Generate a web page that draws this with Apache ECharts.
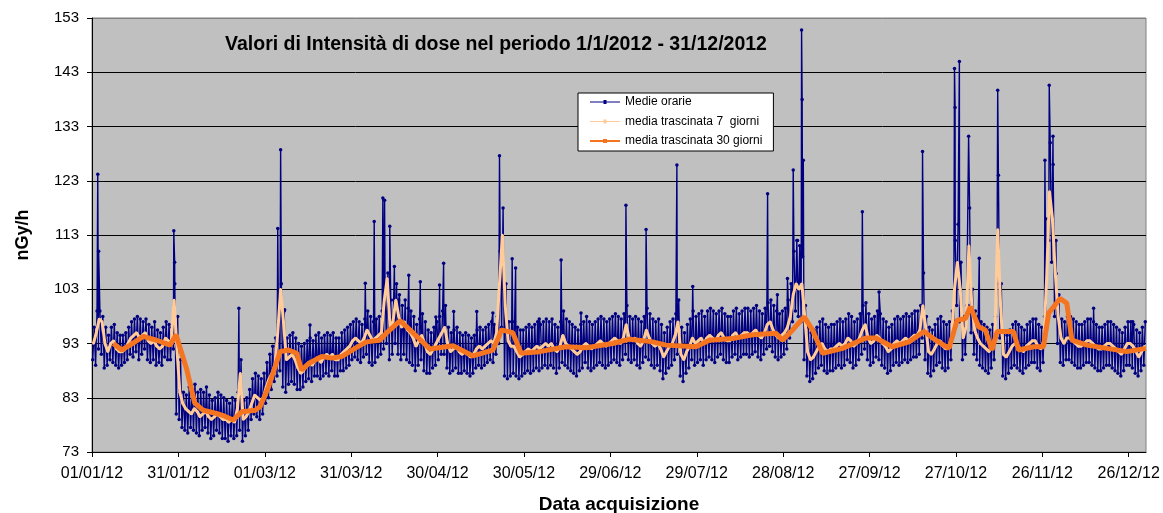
<!DOCTYPE html>
<html>
<head>
<meta charset="utf-8">
<script src="https://cdn.jsdelivr.net/npm/echarts@6/dist/echarts.min.js"></script>
<style>
html,body{margin:0;padding:0;background:#fff;}
#chart{width:1163px;height:513px;}
</style>
</head>
<body>
<div id="chart"></div>
<script>
// Tick labels of the x axis (one every 30 days, day 0 = 01/01/12)
const tickLabels = ['01/01/12','31/01/12','01/03/12','31/03/12','30/04/12','30/05/12','29/06/12','29/07/12','28/08/12','27/09/12','27/10/12','26/11/12','26/12/12'];
const yTicks = [73, 83, 93, 103, 113, 123, 133, 143, 153];

// Medie orarie: daily minimum of the hourly means (day 0..365)
const orarieMin = [
 90,89,92,91,88.5,89,90,89.5,89,88.5,
 89,89.5,90,91,90.5,91.5,90,91,92,90,
 89.5,90,89,89.5,89,90.5,90,90,92,80,
 79,77.5,77,76.5,77.5,77,76.5,76,77,77.5,
 76.5,75.5,76,77,76.5,75.5,75.5,75,76,75.5,
 76,77,75,76,77,79,80,79.5,79,80,
 82,83,84.5,86,87,88,85,84,85.5,86,
 85.5,84.5,84.5,85,86,86.5,86,87,87,86.5,
 87,87.5,87,88,87,87,88,88,88.5,89,
 90,90.5,90,89.5,90.5,91,89.5,89,89.5,90.5,
 91,92,93,90,91,93,91,90,91,90,
 89.5,89,88,89,90,88,87.5,87.5,88.5,89,
 90,91,91,88.5,87.5,88,88.5,87.5,87.5,88,
 87.5,87,87.5,88.5,89,88.5,89,89.5,90,89.5,
 91,93,96,87,86.5,87,87.5,87,86.5,87,
 87.5,88,87.5,88,88.5,88,88.5,89,88.5,89,
 88.5,87.5,88.5,89.5,89,88.5,88,87.5,87,88,
 88.5,89.5,88.5,88,88.5,89,89.5,89,88.5,89,
 89.5,90,89.5,89,90,91,90,89.5,90,89,
 88.5,89.5,90.5,90,89,88.5,89,88,86.5,87.5,
 88.5,89,90,91,87,86,87.5,88.5,90,89,
 89.5,90,89,90,90.5,90,89.5,90.5,91,90,
 89.5,89.5,90.5,91,90,90.5,91,91,90.5,91,
 91.5,90.5,90,91,92,92.5,91.5,90.5,90,90.5,
 91,92,94,97,99,98,97,90,87,86,
 86.5,87.5,88.5,89,88,87.5,88,88,88.5,89,
 88.5,89,90,89.5,88.5,89,90,91,92,90,
 89,89.5,90.5,90,89,88.5,87.5,88,89,89.5,
 89,89.5,90,89.5,90,90.5,90.5,91,94,90,
 87.5,87,88,89,89.5,88.5,88,88.5,90,97,
 100,97,90,91,100,95,91,90,89,88.5,
 88,87.5,88.5,90,104,94,87,86.5,87.5,88.5,
 89,88.5,88,87.5,88.5,89,89.5,89.5,88.5,88,
 89.5,98,112,108,98,93,89.5,89,90,90,
 89.5,89,88.5,88.5,89,89.5,89.5,89,88.5,88,
 88,88.5,89,89,88.5,88,87.5,87,88,89,
 89,88.5,87.5,87,88,89
];
// Medie orarie: daily maximum of the hourly means (day 0..365)
const orarieMax = [
 96,99,99,98,96,94.5,96,96.5,95,94.5,
 94.5,95,96,97,97.5,98,97.5,97,97.5,96.5,
 96,97,95.5,95,96,97,96.5,96,104,98,
 90,84,83.5,85,84,85.5,84,84.5,84,85,
 83.5,82.5,83,84,83.5,83,82.5,82,83,82.5,
 84,90,82.5,83,84.5,86.5,87.5,87,86.5,87.5,
 89.5,91,92.5,94,97,104,99,94,94.5,95,
 94,93,92.5,93,93.5,94,93.5,94.5,95,94,
 94.5,95,94.5,95,94,94,95,95.5,96,96.5,
 97,97.5,97,96.5,97.5,99,98,97,97.5,98,
 99,104,106,101,101,104,102,100,101,99.5,
 99,98,96.5,97.5,98.5,97,95.5,95,96,97,
 98,99,100,96,95,95.5,96,95,94.5,95,
 94.5,94,94.5,95.5,96,95.5,96,96.5,97,96.5,
 98,110,118,104,97,97,97,96,95.5,95.5,
 96,96.5,96,96.5,97,96.5,97,97.5,97,97.5,
 96.5,96,97,99,97.5,97,96.5,96,95.5,96.5,
 97,98,97,96.5,97,97.5,98,97.5,97,97.5,
 98,98.5,98,97.5,98.5,100,98,97.5,98,97.5,
 97,98,99.5,98.5,97.5,97,97.5,96.5,95,96,
 97,97.5,98.5,101,96,95,96.5,97.5,99,98,
 98.5,99,98,99,99.5,99,98.5,99,99.5,98.5,
 98,98,99,99.5,98.5,99,99.5,99.5,99,99.5,
 100,99,98.5,99.5,100.5,101,100,99,98.5,99,
 99.5,101,104,110,112,111,109,100,96,95,
 95.5,96,97,97.5,96.5,96,96.5,96.5,97,97.5,
 97,97.5,98.5,98,97,97.5,98.5,100,100.5,98.5,
 97.5,98,99,98.5,97.5,97,96,96.5,97.5,98,
 97.5,98,98.5,98,98.5,99,99,100,106,98,
 96,95.5,96.5,97.5,98,97,96.5,97,99,112,
 115,108,98,100,118,103,99,98,97,96.5,
 96,95.5,96.5,98,124,104,95,94.5,95.5,96.5,
 97,96.5,96,95.5,96.5,97,97.5,97.5,96.5,96,
 98,116,130,126,112,102,97.5,97,98,98,
 97.5,97,96.5,96.5,97,97.5,97.5,97,96.5,96,
 96,96.5,97,97,96.5,96,95.5,95,96,97,
 97,96.5,95.5,95,96,97
];
// Medie orarie: isolated peaks [day, nGy/h]
const picchi = [
 [2.0,124.2],[2.3,110],[28.4,113.8],[28.7,108],[51.0,99.5],[64.5,114.2],[65.5,128.7],[66.9,99.2],[75.7,96.4],
 [94.9,104.1],[98.0,115.5],[101.0,119.8],[101.6,119.4],[103.4,114.6],[105.0,107.2],[106.5,101],[110.0,105.6],
 [114.0,104.4],[119.4,97.9],[120.7,103.8],[122.1,107.8],[125.6,98.9],[133.6,98.9],[139.2,98.6],
 [141.5,127.6],[145.9,108.6],[147.1,106.9],[155.3,97.5],[162.9,108.4],[169.8,98.6],
 [185.4,118.5],[192.4,114.0],[203.1,125.9],[208.6,103.5],[234.6,120.6],[238.0,102],[241.5,105],
 [243.5,125],[245.0,112],[246.4,150.8],[246.6,138],[247.0,126.8],[267.5,117.3],[273.3,102.5],
 [288.4,128.4],[299.5,143.7],[299.7,136.5],[301.2,145],[304.4,131.2],[308.1,108.7],[314.5,139.7],
 [330.9,126.8],[332.4,140.6],[333.7,131.2],[334.8,105.9],[347.8,99.5],[361.4,97]
];
// media trascinata 7 giorni (day 0..365)
const media7 = [
 93,95,97.5,97,93,91.5,93,93.5,92,91.5,
 91.5,92,93,94,94.5,95,94,94.5,95,93.5,
 93,93.5,92.5,92,92.5,94,93.5,93,101,92,
 84,82,81,80.5,80,81,80.5,79.5,80,80.5,
 79.5,79,79.5,80,79.5,79,79,78.5,79,78.5,
 81,87.5,79,79.5,80.5,82,83.5,83,82.5,83,
 85,86.5,87.5,89,95,103,97,90,90.5,91,
 90,88.5,87.5,88,89,89.5,89,90,90.5,89.5,
 90.5,91,90.5,91,90,90,91,91.5,92,92.5,
 93.5,94,93.5,93,94,95.5,94.5,93.5,94,94.5,
 95,101,105,96,97,101,98,96,97,95.5,
 95,94,92.5,93.5,94.5,93,91.5,91,92,93,
 94,95,96,93,91.5,92,92.5,91.5,91,91.5,
 91,90.5,91,92,92.5,92,92.5,93,93.5,93,
 95,104,113,100,93.5,92.5,92.5,91.5,90.5,91,
 91.5,92,91.5,92,92.5,92,92.5,93,92.5,93,
 92,91.5,92.5,94.5,93,92.5,92,91.5,91,91.5,
 92.5,93,92.5,92,92.5,93,93.5,93,92.5,93,
 93.5,94,93.5,93,94,96.5,94,93.5,94,93,
 92.5,93.5,95.5,94,93,92.5,93,92,90.5,91.5,
 92.5,93,94.5,97,91,90,91.5,92.5,94,93,
 93.5,94,93,94,94.5,94,93.5,94.5,95,94,
 93.5,93.5,94.5,95,94,94.5,95,95,94.5,95,
 95.5,94.5,94,95,96.5,97,95.5,94.5,94,94.5,
 95,96,98,102,104,103,104,98,91.5,90,
 90.5,91.5,92.5,93,92,91.5,92,92,92.5,93,
 92.5,93,94,93.5,92.5,93,94,95.5,96.5,94,
 93,93.5,94.5,94,93,92.5,91.5,92,93,93.5,
 93,93.5,94,93.5,94,94.5,94.5,95.5,100,96,
 91.5,91,92,93,93.5,92.5,92,92.5,94,103,
 108,103,94,96,111,100,95.5,94,93,92.5,
 92,91.5,92.5,94,114,100,91,90.5,91.5,92.5,
 93,92.5,92,91.5,92.5,93,93.5,93.5,92.5,92,
 93.5,105,121,116,106,98,94,93,94,94,
 93.5,93,92.5,92.5,93,93.5,93.5,93,92.5,92,
 92,92.5,93,93,92.5,92,91.5,91,92,93,
 93,92.5,91.5,90.5,91.5,92.5
];
// media trascinata 30 giorni: days and values
const giorni30 = [7.4,10.3,13.2,17.8,22.4,27.1,29.2,32.8,35.7,38.6,43.2,46.1,49.0,52.0,56.7,58.4,61.3,63.6,65.3,68.2,71.1,72.8,75.2,79.8,83.2,86.7,91.3,95.3,99.9,102.2,107.0,111.6,117.3,125.4,132.3,139.2,141.5,142.1,146.1,149.0,155.4,164.6,171.6,180.8,186.6,194.7,199.3,209.7,214.4,222.4,229.4,237.5,239.8,243.3,247.3,250.2,253.7,260.6,268.7,272.2,277.9,283.7,288.9,293.0,297.6,300.4,303.3,305.0,307.9,310.2,312.5,314.3,320.0,321.8,327.0,330.4,332.2,336.2,338.5,340.3,345.5,352.4,359.3,366.0];
const valori30 = [93.0,91.8,92.7,94.3,93.6,92.7,94.6,88.4,82.0,80.7,80.1,79.6,78.9,80.4,80.7,81.4,85.0,88.7,91.5,91.8,91.2,88.1,89.3,90.6,90.3,90.6,92.1,93.3,93.6,94.9,97.2,94.9,92.0,92.6,90.7,91.8,94.5,95.5,95.0,91.2,91.5,92.4,92.2,93.0,93.8,93.3,92.7,92.4,93.6,93.9,94.6,94.9,93.6,95.5,97.9,95.5,91.2,92.1,94.0,94.0,92.4,93.3,95.2,93.6,92.1,97.3,97.6,99.8,96.1,95.5,91.8,95.2,95.2,91.8,92.4,92.4,98.6,101.3,100.4,93.6,92.7,92.1,91.5,92.1];

// ---- build series tables ----
const datiOrari = [];
orarieMin.forEach((v, d) => { datiOrari.push([d + 0.25, v]); datiOrari.push([d + 0.75, orarieMax[d]]); });
picchi.forEach(p => datiOrari.push(p));
datiOrari.sort((a, b) => a[0] - b[0]);
const dati7 = media7.map((v, d) => [d + 0.5, v]);
const dati30 = giorni30.map((d, i) => [d, valori30[i]]);

const FONT = '"Liberation Sans", Arial, sans-serif';
// legend icons: a line with a small marker in the middle
const iconThin = 'path://M0,1.6L30,1.6L30,2.4L0,2.4Z M13.5,0L16.5,0L16.5,4L13.5,4Z';
const iconThick = 'path://M0,1L30,1L30,3L0,3Z M13,0L17,0L17,4L13,4Z';
const chart = echarts.init(document.getElementById('chart'));
chart.setOption({
  animation: false,
  backgroundColor: '#ffffff',
  grid: { left: 92, right: 17, top: 18, bottom: 61, outerBoundsMode: 'none', containLabel: false,
    show: true, backgroundColor: '#C0C0C0', borderColor: '#808080', borderWidth: 1 },
  graphic: [{
    type: 'text', x: 496, y: 45, z: 100,
    style: { text: 'Valori di Intensità di dose nel periodo 1/1/2012 - 31/12/2012', font: 'bold 19.5px ' + FONT, fill: '#000', align: 'center', verticalAlign: 'middle' }
  }],
  legend: {
    orient: 'vertical', left: 578, top: 93,
    backgroundColor: '#ffffff', borderColor: '#000000', borderWidth: 1,
    padding: [3, 11, 4, 12], itemWidth: 30, itemHeight: 4, itemGap: 7.5,
    textStyle: { fontFamily: FONT, fontSize: 12, color: '#000' },
    data: [
      { name: 'Medie orarie', icon: iconThin },
      { name: 'media trascinata 7  giorni', icon: iconThin },
      { name: 'media trascinata 30 giorni', icon: iconThick }
    ]
  },
  xAxis: {
    type: 'value', min: 0, max: 366, interval: 30,
    name: 'Data acquisizione', nameLocation: 'middle', nameGap: 43,
    nameTextStyle: { fontFamily: FONT, fontSize: 19, fontWeight: 'bold', color: '#000' },
    axisLine: { show: true, lineStyle: { color: '#000', width: 1 } },
    axisTick: { show: true, length: 5, lineStyle: { color: '#000' } },
    axisLabel: { margin: 14, fontFamily: FONT, fontSize: 16, color: '#000', showMaxLabel: false,
      formatter: v => (v % 30 === 0 && tickLabels[v / 30]) ? tickLabels[v / 30] : '' },
    splitLine: { show: false }
  },
  yAxis: {
    type: 'value', min: yTicks[0], max: yTicks[yTicks.length - 1], interval: 10,
    name: 'nGy/h', nameLocation: 'middle', nameGap: 60, nameRotate: 90,
    nameTextStyle: { fontFamily: FONT, fontSize: 18, fontWeight: 'bold', color: '#000' },
    axisLine: { show: true, lineStyle: { color: '#000', width: 1 } },
    axisTick: { show: true, length: 5, lineStyle: { color: '#000' } },
    axisLabel: { margin: 13, fontFamily: FONT, fontSize: 15, color: '#000' },
    splitLine: { show: true, lineStyle: { color: ['#000','#000','#000','#000','#000','#000','#000','#000','#808080'], width: 1 } }
  },
  series: [
    { name: 'Medie orarie', type: 'line', data: datiOrari, z: 2,
      symbol: 'circle', symbolSize: 3.5, showSymbol: true,
      itemStyle: { color: '#000080' }, lineStyle: { color: '#000080', width: 1.4 } },
    { name: 'media trascinata 7  giorni', type: 'line', data: dati7, z: 3,
      symbol: 'circle', symbolSize: 2.5, showSymbol: true,
      itemStyle: { color: '#FFCC99' }, lineStyle: { color: '#FFCC99', width: 3 } },
    { name: 'media trascinata 30 giorni', type: 'line', data: dati30, z: 4,
      symbol: 'rect', symbolSize: 3, showSymbol: false,
      itemStyle: { color: '#F47420' }, lineStyle: { color: '#F47420', width: 5 } }
  ]
});
</script>
</body>
</html>
